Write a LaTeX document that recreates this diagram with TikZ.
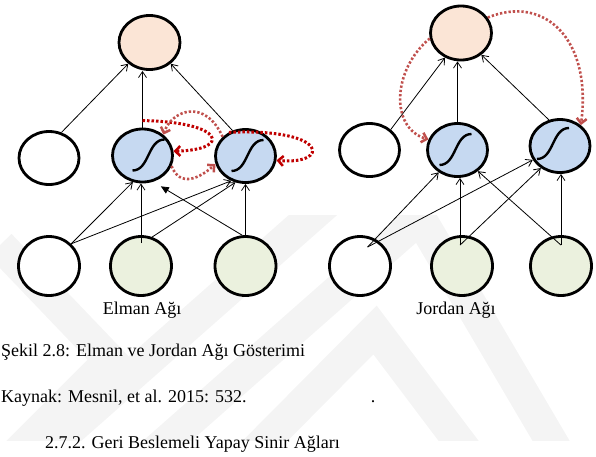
\documentclass[tikz,border=0pt]{standalone}
\usepackage{fontspec}
\setmainfont{Liberation Serif}
\usetikzlibrary{shapes.geometric,arrows.meta}
\definecolor{peach}{HTML}{FBE5D6}
\definecolor{hidblue}{HTML}{C6D9F1}
\definecolor{ingreen}{HTML}{EBF1DE}
\definecolor{recdark}{HTML}{C00000}
\definecolor{reclight}{HTML}{C0504D}
\definecolor{wmark}{HTML}{F4F4F4}

% S-curve inside a hidden neuron: node, dx, dy
\newcommand\sigm[3]{%
  \draw[sigline] ([shift={(#2-16,#3+15)}]#1.center) .. controls +(17,0) and +(-17,0) .. ([shift={(#2+16,#3-16)}]#1.center);}

\begin{document}
\begin{tikzpicture}[x=1pt,y=-1pt,
  neuron/.style={ellipse, draw, line width=2.8pt, inner sep=0pt, minimum width=60pt, minimum height=53pt},
  outn/.style={neuron, fill=peach, minimum width=61pt, minimum height=54pt},
  hidn/.style={neuron, fill=hidblue},
  ctxn/.style={neuron, fill=white},
  inn/.style={neuron, fill=ingreen, minimum width=61pt, minimum height=59pt},
  inw/.style={neuron, fill=white, minimum width=61pt, minimum height=59pt},
  conn/.style={-{Straight Barb[length=6pt,width=8pt,line width=0.8pt]}, line width=0.8pt},
  fconn/.style={-{Triangle[length=8pt,width=7pt]}, line width=0.8pt},
  recd/.style={recdark, line width=3pt, dash pattern=on 2.5pt off 2pt, -{Straight Barb[length=5pt,width=10pt,line width=2.5pt]}},
  recl/.style={reclight, line width=2.6pt, dash pattern=on 2.3pt off 2pt, -{Straight Barb[length=5pt,width=10pt,line width=2.5pt]}},
  sigline/.style={line width=2.4pt},
  wm/.style={wmark, line width=32pt},
  lab/.style={inner sep=0pt, font=\fontsize{18}{21}\selectfont},
]
  \useasboundingbox (0,0) rectangle (596,456);

  % watermark
  \begin{scope}
    \clip (0,215) rectangle (596,440);
    \draw[wm] (0,245) -- (110,360) -- (0,470);
    \draw[wm] (40,456) -- (330,200);
    \draw[wm] (150,456) -- (420,218) -- (560,456);
    \draw[wm] (250,456) -- (375,330) -- (470,456);
  \end{scope}

  % Elman
  \node[outn] (eout) at (149.5,42.5) {};
  \node[ctxn] (ectx) at (49,158) {};
  \node[hidn] (eh1) at (142.5,155.5) {};
  \node[hidn] (eh2) at (245.5,156) {};
  \node[inw] (ein) at (49,266) {};
  \node[inn] (ex1) at (141,266) {};
  \node[inn] (ex2) at (245.5,266) {};
  \sigm{eh1}{6}{0}
  \sigm{eh2}{2}{0}

  \draw[conn] (ectx.64) -- (eout.225);
  \draw[conn] (eh1.north) -- (eh1.north |- eout.south);
  \draw[conn] (eh2.117) -- (eout.-45);
  \draw[conn] (ein.45) -- (eh1.250);
  \draw[conn] (ein.45) -- (eh2.240);
  \draw[conn] ([yshift=-8pt]ex1.north) -- (ex1.north |- eh1.south);
  \draw[conn] (ex1.69) -- (eh2.249);
  \draw[conn] (ex2.north) -- (ex2.north |- eh2.south);
  \draw[fconn] (ex2.96) -- ([shift={(4,6)}]eh1.300);

  \draw[recd] ([yshift=7pt]eh1.north) .. controls (225,122) and (232,150) .. (eh1.8);
  \draw[recd] (eh2.125) .. controls (330,128) and (330,165) .. (eh2.-8);
  \draw[recl] (eh2.140) .. controls (205,98) and (172,110) .. (eh1.45);
  \draw[recl] (eh1.-20) .. controls (180,188) and (200,178) .. (eh2.195);

  % Jordan
  \node[outn] (jout) at (461,33) {};
  \node[ctxn] (jctx) at (369.5,150) {};
  \node[hidn] (jh1) at (457.5,150) {};
  \node[hidn] (jh2) at (560,146) {};
  \node[inw] (jin) at (360,266) {};
  \node[inn] (jx1) at (462,266) {};
  \node[inn] (jx2) at (561,266) {};
  \sigm{jh1}{-2}{0}
  \sigm{jh2}{-7}{-2}

  \draw[conn] (jctx.44) -- (jout.237);
  \draw[conn] (jh1.north) -- (jh1.north |- jout.south);
  \draw[conn] (jh2.113) -- (jout.-47);
  \draw[conn] ([shift={(-8,8)}]jin.60) -- (jh1.230);
  \draw[conn] ([shift={(-8,8)}]jin.60) -- (jh2.207);
  \draw[conn] ([shift={(-2,10)}]jx1.north) -- ([xshift=-2pt]jx1.north |- jh1.south);
  \draw[conn] ([shift={(-2,10)}]jx1.north) -- (jh2.229);
  \draw[conn] ([yshift=-10pt]jx2.north) -- (jx2.north |- jh2.south);
  \draw[conn] ([yshift=-10pt]jx2.north) -- (jh1.314);

  \draw[recl] (jout.190) .. controls (392,70) and (390,128) .. (jh1.160);
  \draw[recl] (jout.30) .. controls (545,-6) and (592,40) .. (jh2.45);

  % labels
  \node[lab, anchor=base] (elab) at (142,314) {Elman Ağı};
  \node[lab, anchor=base] (jlab) at (456,314) {Jordan Ağı};
  \node[lab, anchor=base west] (cap) at (1,356) {Şekil 2.8: Elman ve Jordan Ağı Gösterimi};
  \node[lab, anchor=base west] (src) at (1,402) {Kaynak: Mesnil, et al. 2015: 532.};
  \node[lab, anchor=base] (dot) at (373,402) {.};
  \node[lab, anchor=base west] (sec) at (45,448) {2.7.2. Geri Beslemeli Yapay Sinir Ağları};
\end{tikzpicture}
\end{document}
